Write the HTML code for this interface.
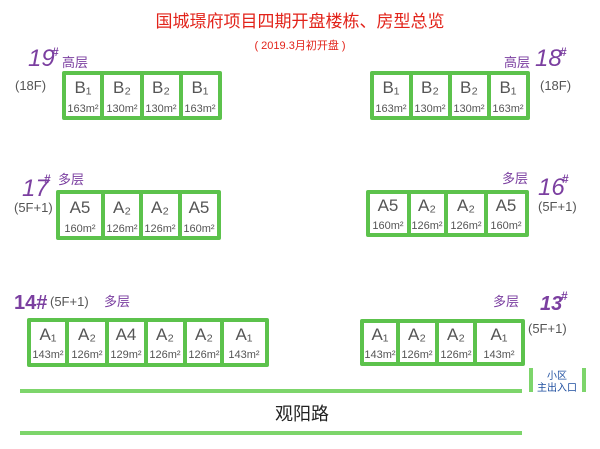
<!DOCTYPE html>
<html><head><meta charset="utf-8"><style>
body{margin:0;background:#fff;width:600px;height:449px;overflow:hidden}
svg{display:block}
.c{font-family:"Liberation Sans","Noto Sans CJK SC",sans-serif}
.hw{font-family:"Liberation Sans",sans-serif;fill:#555}
</style></head><body>
<svg width="600" height="449" viewBox="0 0 600 449" xmlns="http://www.w3.org/2000/svg">
<text x="300" y="27" text-anchor="middle" class="c" font-size="17" fill="#e2231a">国城璟府项目四期开盘楼栋、房型总览</text>
<text x="300" y="49" text-anchor="middle" class="c" font-size="11" fill="#e2231a">( 2019.3月初开盘 )</text>

<g fill="none" stroke="#5cc24c" stroke-width="4" stroke-linejoin="round">
<rect x="64" y="73" width="156" height="45"/>
<path d="M102 73V118M142 73V118M181 73V118"/>
<rect x="372" y="73" width="156" height="45"/>
<path d="M411 73V118M450 73V118M489 73V118"/>
<rect x="58" y="192" width="161" height="46"/>
<path d="M103 192V238M141 192V238M180 192V238"/>
<rect x="368" y="192" width="159" height="43"/>
<path d="M409 192V235M446 192V235M486 192V235"/>
<rect x="29" y="320" width="238" height="45"/>
<path d="M67 320V365M107 320V365M146 320V365M185 320V365M222 320V365"/>
<rect x="362" y="321" width="161" height="43"/>
<path d="M398 321V364M437 321V364M475 321V364"/>
</g>
<g stroke="#7dd56b" stroke-width="4">
<path d="M20 391H522M20 433H522M531 368V392M584 368V392"/>
</g>

<g class="hw" font-size="17" text-anchor="middle">
<text x="83" y="93">B₁</text><text x="122" y="93">B₂</text><text x="161" y="93">B₂</text><text x="200" y="93">B₁</text>
<text x="391" y="93">B₁</text><text x="430" y="93">B₂</text><text x="469" y="93">B₂</text><text x="508" y="93">B₁</text>
<text x="80" y="213">A5</text><text x="122" y="213">A₂</text><text x="160" y="213">A₂</text><text x="199" y="213">A5</text>
<text x="388" y="211">A5</text><text x="427" y="211">A₂</text><text x="466" y="211">A₂</text><text x="506" y="211">A5</text>
<text x="48" y="340">A₁</text><text x="87" y="340">A₂</text><text x="126" y="340">A4</text><text x="165" y="340">A₂</text><text x="204" y="340">A₂</text><text x="244" y="340">A₁</text>
<text x="380" y="340">A₁</text><text x="417" y="340">A₂</text><text x="456" y="340">A₂</text><text x="499" y="340">A₁</text>
</g>
<g class="hw" font-size="11" text-anchor="middle">
<text x="83" y="112">163m²</text><text x="122" y="112">130m²</text><text x="161" y="112">130m²</text><text x="200" y="112">163m²</text>
<text x="391" y="112">163m²</text><text x="430" y="112">130m²</text><text x="469" y="112">130m²</text><text x="508" y="112">163m²</text>
<text x="80" y="232">160m²</text><text x="122" y="232">126m²</text><text x="160" y="232">126m²</text><text x="199" y="232">160m²</text>
<text x="388" y="229">160m²</text><text x="427" y="229">126m²</text><text x="466" y="229">126m²</text><text x="506" y="229">160m²</text>
<text x="48" y="358">143m²</text><text x="87" y="358">126m²</text><text x="126" y="358">129m²</text><text x="165" y="358">126m²</text><text x="204" y="358">126m²</text><text x="244" y="358">143m²</text>
<text x="380" y="358">143m²</text><text x="417" y="358">126m²</text><text x="456" y="358">126m²</text><text x="499" y="358">143m²</text>
</g>

<g class="c" fill="#7b3fa0">
<text x="28" y="66" font-size="24" font-style="italic">19</text><text x="52" y="56" font-size="12" font-weight="bold">#</text>
<text x="62" y="67" font-size="13">高层</text>
<text x="504" y="67" font-size="13">高层</text>
<text x="535" y="66" font-size="24" font-style="italic">18</text><text x="560" y="56" font-size="12" font-weight="bold">#</text>
<text x="22" y="196" font-size="24" font-style="italic">17</text><text x="44" y="183" font-size="12" font-weight="bold">#</text>
<text x="58" y="184" font-size="13">多层</text>
<text x="502" y="183" font-size="13">多层</text>
<text x="538" y="195" font-size="24" font-style="italic">16</text><text x="562" y="183" font-size="12" font-weight="bold">#</text>
<text x="14" y="309" font-size="20" font-weight="bold">14#</text>
<text x="104" y="306" font-size="13">多层</text>
<text x="493" y="306" font-size="13">多层</text>
<text x="540" y="310" font-size="20" font-weight="bold" font-style="italic">13</text><text x="561" y="300" font-size="12" font-weight="bold">#</text>
</g>
<g class="hw" font-size="13">
<text x="15" y="90">(18F)</text>
<text x="540" y="90">(18F)</text>
<text x="14" y="212">(5F+1)</text>
<text x="538" y="211">(5F+1)</text>
<text x="50" y="306">(5F+1)</text>
<text x="528" y="333">(5F+1)</text>
</g>
<text x="557" y="379" text-anchor="middle" class="c" font-size="10" fill="#1f4fa0">小区</text>
<text x="557" y="391" text-anchor="middle" class="c" font-size="10" fill="#1f4fa0">主出入口</text>
<text x="302" y="420" text-anchor="middle" class="c" font-size="18" fill="#222">观阳路</text>
</svg>
</body></html>
